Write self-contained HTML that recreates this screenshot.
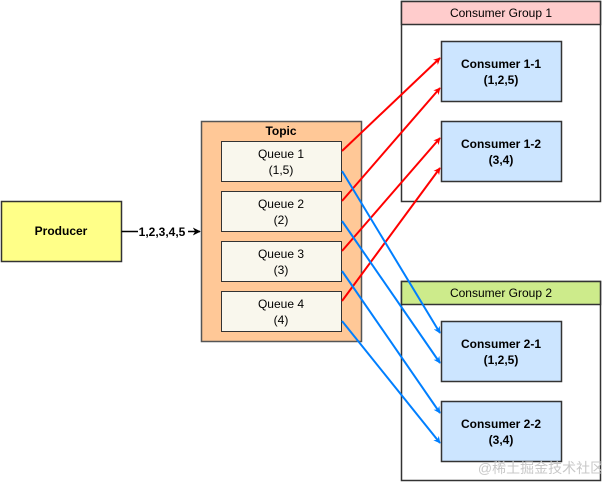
<!DOCTYPE html>
<html><head><meta charset="utf-8"><style>
html,body{margin:0;padding:0;background:#fff;}
svg{display:block;}
text{font-family:"Liberation Sans",Arial,sans-serif;font-size:12px;fill:#000;text-anchor:middle;}
.b{font-weight:bold;}
</style></head><body>
<svg width="602" height="482" viewBox="0 0 602 482">
<defs>
<marker id="ar" viewBox="0 0 10 10" refX="9" refY="5" markerWidth="7" markerHeight="7" orient="auto" markerUnits="userSpaceOnUse"><path d="M0,0 L10,5 L0,10 L3,5 z" fill="#ff0000"/></marker>
<marker id="ab" viewBox="0 0 10 10" refX="9" refY="5" markerWidth="7" markerHeight="7" orient="auto" markerUnits="userSpaceOnUse"><path d="M0,0 L10,5 L0,10 L3,5 z" fill="#007fff"/></marker>
<marker id="ak" viewBox="0 0 10 10" refX="9" refY="5" markerWidth="8" markerHeight="8" orient="auto" markerUnits="userSpaceOnUse"><path d="M0,0 L10,5 L0,10 L3,5 z" fill="#000"/></marker>
</defs>
<!-- groups -->
<rect x="401.5" y="1.5" width="199" height="200" fill="#fff" stroke="#333" stroke-width="1.5"/>
<rect x="401.5" y="1.5" width="199" height="23" fill="#ffcccc" stroke="#333" stroke-width="1.5"/>
<text x="501" y="17">Consumer Group 1</text>
<rect x="401.5" y="281.5" width="199" height="199" fill="#fff" stroke="#333" stroke-width="1.5"/>
<rect x="401.5" y="281.5" width="199" height="23" fill="#cdeb8b" stroke="#333" stroke-width="1.5"/>
<text x="501" y="297">Consumer Group 2</text>
<!-- consumers -->
<g fill="#cce5ff" stroke="#333" stroke-width="1.5">
<rect x="441.5" y="41.5" width="120" height="60"/>
<rect x="441.5" y="121.5" width="120" height="60"/>
<rect x="441.5" y="321.5" width="120" height="60"/>
<rect x="441.5" y="401.5" width="120" height="60"/>
</g>
<text class="b" x="501" y="68">Consumer 1-1</text><text class="b" x="501" y="84">(1,2,5)</text>
<text class="b" x="501" y="148">Consumer 1-2</text><text class="b" x="501" y="164">(3,4)</text>
<text class="b" x="501" y="348">Consumer 2-1</text><text class="b" x="501" y="364">(1,2,5)</text>
<text class="b" x="501" y="428">Consumer 2-2</text><text class="b" x="501" y="444">(3,4)</text>
<!-- producer -->
<rect x="1.5" y="201.5" width="120" height="60" fill="#ffff88" stroke="#333" stroke-width="1.5"/>
<text class="b" x="61" y="235">Producer</text>
<line x1="121.5" y1="231.5" x2="200" y2="231.5" stroke="#000" stroke-width="1.5" marker-end="url(#ak)"/>
<rect x="138" y="224" width="50" height="15" fill="#fff"/>
<text class="b" x="162" y="236">1,2,3,4,5</text>
<!-- topic -->
<rect x="201.5" y="121.5" width="160" height="220" fill="#ffc897" stroke="#555" stroke-width="1.5"/>
<text class="b" x="281" y="135">Topic</text>
<g fill="#f9f7ed" stroke="#333" stroke-width="1">
<rect x="221.5" y="141.5" width="120" height="40"/>
<rect x="221.5" y="191.5" width="120" height="40"/>
<rect x="221.5" y="241.5" width="120" height="40"/>
<rect x="221.5" y="291.5" width="120" height="40"/>
</g>
<g style="fill:#333">
<text x="281" y="158" fill="#333">Queue 1</text><text x="281" y="174" fill="#333">(1,5)</text>
<text x="281" y="208" fill="#333">Queue 2</text><text x="281" y="224" fill="#333">(2)</text>
<text x="281" y="258" fill="#333">Queue 3</text><text x="281" y="274" fill="#333">(3)</text>
<text x="281" y="308" fill="#333">Queue 4</text><text x="281" y="324" fill="#333">(4)</text>
</g>
<!-- arrows -->
<g stroke="#ff0000" stroke-width="2" fill="none">
<line x1="342" y1="151" x2="440" y2="58" marker-end="url(#ar)"/>
<line x1="342" y1="201" x2="440" y2="88" marker-end="url(#ar)"/>
<line x1="342" y1="251" x2="440" y2="138" marker-end="url(#ar)"/>
<line x1="342" y1="301" x2="440" y2="168" marker-end="url(#ar)"/>
</g>
<g stroke="#007fff" stroke-width="2" fill="none">
<line x1="342" y1="171" x2="440" y2="333" marker-end="url(#ab)"/>
<line x1="342" y1="221" x2="440" y2="363" marker-end="url(#ab)"/>
<line x1="342" y1="271" x2="440" y2="413" marker-end="url(#ab)"/>
<line x1="342" y1="321" x2="440" y2="443" marker-end="url(#ab)"/>
</g>
<text x="541" y="473" style="font-family:'Liberation Sans','Noto Sans CJK SC',sans-serif;font-size:14px;fill:#c8c8c8">@稀土掘金技术社区</text>
</svg>
</body></html>
